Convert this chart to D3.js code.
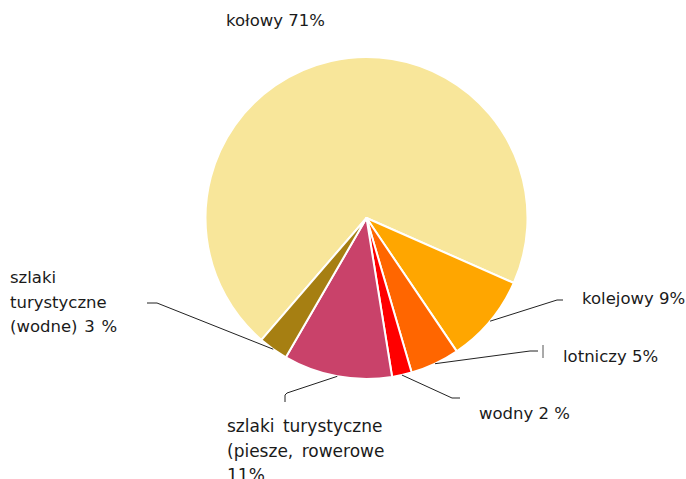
<!DOCTYPE html>
<html>
<head>
<meta charset="utf-8">
<script src="https://cdn.jsdelivr.net/npm/d3@7"></script>
<style>
  html, body { margin: 0; padding: 0; background: #fff; }
  svg { display: block; }
  text { font-family: "DejaVu Sans", Verdana, sans-serif; fill: #1a1a1a; }
</style>
</head>
<body>
<svg id="chart" width="686" height="479"></svg>
<script>
// Udział poszczególnych rodzajów transportu (%)
const categories = ["kołowy", "kolejowy", "lotniczy", "wodny",
  "szlaki turystyczne (piesze, rowerowe)", "szlaki turystyczne (wodne)"];
const shares = [71, 9, 5, 2, 11, 3];
const labelLines = [
  ["kołowy 71%"],
  ["kolejowy 9%"],
  ["lotniczy 5%"],
  ["wodny 2 %"],
  ["szlaki turystyczne", "(piesze, rowerowe", "11%"],
  ["szlaki", "turystyczne", "(wodne) 3 %"]
];
const sliceColors = ["#F8E69A", "#FFA600", "#FF6600", "#FF0000", "#C9426A", "#A67F12"];

// Label placement: text anchor and leader bends for each slice
const labelLayout = [
  { x: 226, y: 26, bends: null },
  { x: 582, y: 304, bends: [[557, 300], [563, 300]] },
  { x: 563, y: 362, bends: [[530, 351], [538, 351]], tick: [[543, 345], [543, 358]] },
  { x: 479, y: 419, bends: [[452, 398], [460, 398]] },
  { x: 227, y: 432, bends: [[287, 393], [285, 395], [285, 402]], size: 17, wordSpacing: 3 },
  { x: 10, y: 283, bends: [[157, 303], [147, 303]], wordSpacing: 1.5 }
];
const lineHeight = 24.5;
const fontSize = 16.5;

const svg = d3.select("#chart");
const cx = 366.5, cy = 218, radius = 161;
const start = -139.25 * Math.PI / 180;

const pie = d3.pie().sort(null).value(d => d)
  .startAngle(start).endAngle(start + 2 * Math.PI);
const arcs = pie(shares);
const arc = d3.arc().innerRadius(0).outerRadius(radius);

const g = svg.append("g").attr("transform", `translate(${cx},${cy})`);

g.selectAll("path.slice")
  .data(arcs)
  .join("path")
  .attr("class", "slice")
  .attr("d", arc)
  .attr("fill", (d, i) => sliceColors[i])
  .attr("stroke", "#fff")
  .attr("stroke-width", 2)
  .attr("stroke-linejoin", "round");

// Leader lines start on the rim at each slice's mid angle
const line = d3.line();
arcs.forEach((d, i) => {
  const L = labelLayout[i];
  if (!L.bends) return;
  const mid = (d.startAngle + d.endAngle) / 2;
  const p0 = [cx + radius * Math.sin(mid), cy - radius * Math.cos(mid)];
  svg.append("path")
    .attr("d", line([p0, ...L.bends]))
    .attr("fill", "none")
    .attr("stroke", "#222")
    .attr("stroke-width", 1);
  if (L.tick) {
    svg.append("path")
      .attr("d", line(L.tick))
      .attr("fill", "none")
      .attr("stroke", "#555")
      .attr("stroke-width", 1);
  }
});

// Labels
labelLines.forEach((lines, i) => {
  const L = labelLayout[i];
  const t = svg.append("text")
    .attr("x", L.x)
    .attr("y", L.y)
    .attr("font-size", L.size || fontSize)
    .attr("word-spacing", L.wordSpacing || 0);
  lines.forEach((s, j) => {
    t.append("tspan")
      .attr("x", L.x)
      .attr("y", L.y + j * lineHeight)
      .text(s);
  });
});
</script>
</body>
</html>
